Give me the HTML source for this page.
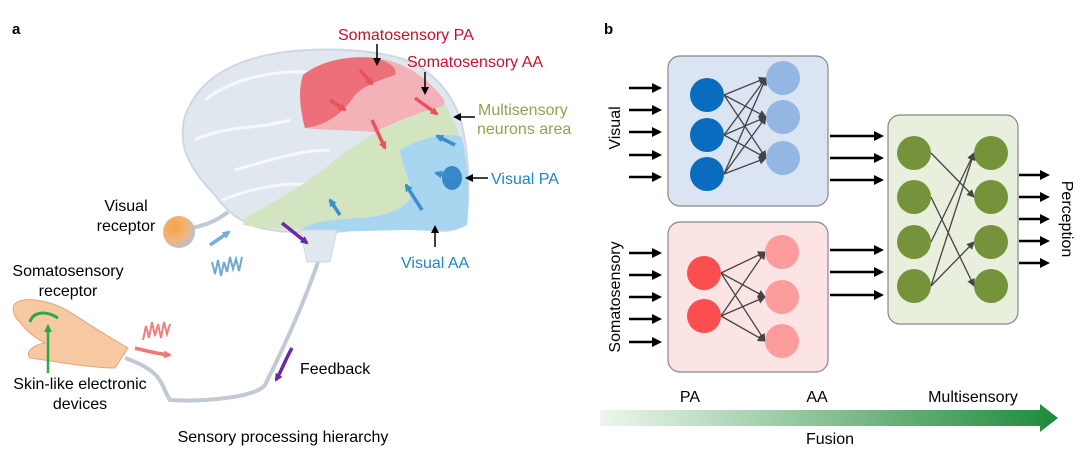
<!DOCTYPE html>
<html><head><meta charset="utf-8"><style>
body{margin:0;background:#fff;}
svg{display:block;font-family:"Liberation Sans",Arial,sans-serif;}
</style></head><body>
<svg width="1080" height="450" viewBox="0 0 1080 450" xmlns="http://www.w3.org/2000/svg">
<defs>
<marker id="ah" markerWidth="8" markerHeight="8" refX="6" refY="4" orient="auto" markerUnits="userSpaceOnUse"><path d="M0,0 L8,4 L0,8 z" fill="context-stroke"/></marker>
<marker id="ak" markerWidth="8" markerHeight="8" refX="6" refY="4" orient="auto" markerUnits="userSpaceOnUse"><path d="M0,0 L8,4 L0,8 z" fill="#000"/></marker>
<marker id="ah2" markerWidth="8" markerHeight="8" refX="7" refY="4" orient="auto" markerUnits="userSpaceOnUse"><path d="M0,0 L8,4 L0,8 z" fill="#444"/></marker>
<marker id="ab" markerWidth="10" markerHeight="10" refX="6" refY="5" orient="auto" markerUnits="userSpaceOnUse"><path d="M0,0 L10,5 L0,10 z" fill="#000"/></marker>
<linearGradient id="fg" x1="0" x2="1"><stop offset="0" stop-color="#eef6ee"/><stop offset="1" stop-color="#1e8a3a"/></linearGradient>
<radialGradient id="eye" cx="0.35" cy="0.35" r="0.75"><stop offset="0" stop-color="#f6a04a"/><stop offset="0.55" stop-color="#f2b57a"/><stop offset="1" stop-color="#a8c4e8"/></radialGradient>
</defs>
<text x="12" y="34" font-size="15" font-weight="bold">a</text>
<text x="604" y="34" font-size="15" font-weight="bold">b</text>

<!-- brain -->
<path d="M190,105 C205,75 240,58 285,52 C330,47 370,50 400,58 C430,68 450,90 460,118 C468,145 470,185 467,215 C463,232 448,232 430,230 C400,228 360,228 337,232 L300,232 C280,232 260,230 245,222 C230,214 222,205 215,195 C200,180 185,160 183,140 C182,125 184,115 190,105 Z" fill="#e1e7ef" stroke="#cfd8e2" stroke-width="2"/>
<path d="M205,100 C230,80 270,70 310,72 M195,140 C225,125 255,130 290,120 M235,170 C270,160 300,150 330,150 M222,200 C260,185 300,178 340,190 M260,215 C300,205 330,200 360,205" stroke="#f6f8fb" stroke-width="3" fill="none"/>
<!-- green region -->
<path d="M243,220 C265,205 300,190 335,160 C370,132 410,115 445,105 C458,125 465,150 466,175 L440,200 C410,215 370,225 330,228 C300,230 270,230 243,225 Z" fill="#d2e5bd" opacity="0.95"/>
<!-- pink region -->
<path d="M303,75 C320,62 345,55 375,58 C400,60 425,75 443,98 C445,102 445,105 443,106 C420,112 400,120 375,132 C350,130 320,130 305,128 C300,110 298,90 303,75 Z" fill="#f2b2b8"/>
<path d="M303,75 C320,62 345,55 375,58 C390,62 398,68 395,75 C380,80 365,85 355,95 C345,110 330,125 305,128 C300,110 298,90 303,75 Z" fill="#ec6f7a"/>
<!-- blue region -->
<path d="M400,150 C420,138 445,132 462,137 C468,165 470,200 467,225 C455,233 435,230 415,230 C385,230 350,232 300,232 C305,222 330,220 360,218 C385,216 405,210 412,195 C410,180 402,165 400,150 Z" fill="#a8d6f1"/>
<ellipse cx="452" cy="178" rx="10" ry="12" fill="#3a87c8"/>
<!-- brainstem & nerve -->
<path d="M300,230 L337,230 L330,262 L307,262 Z" fill="#e1e7ef" stroke="#cfd8e2"/>
<path d="M318,262 C305,300 285,345 265,385 C255,398 200,402 170,400 C160,385 165,372 125,358" stroke="#c0c9d4" stroke-width="4" fill="none"/>
<path d="M228,212 C215,222 205,225 192,228" stroke="#c0c9d4" stroke-width="4" fill="none"/>
<circle cx="179" cy="232" r="16" fill="url(#eye)"/>
<!-- arrows in brain -->
<g stroke-width="3.5" fill="none">
<line x1="360" y1="70" x2="372" y2="84" stroke="#e8525e" marker-end="url(#ah)"/>
<line x1="330" y1="100" x2="345" y2="110" stroke="#e8525e" marker-end="url(#ah)"/>
<line x1="372" y1="120" x2="385" y2="148" stroke="#e8525e" marker-end="url(#ah)"/>
<line x1="415" y1="98" x2="437" y2="114" stroke="#e8525e" marker-end="url(#ah)"/>
<line x1="455" y1="145" x2="437" y2="136" stroke="#3a8ed0" marker-end="url(#ah)"/>
<line x1="455" y1="178" x2="436" y2="173" stroke="#3a8ed0" marker-end="url(#ah)"/>
<line x1="422" y1="210" x2="406" y2="185" stroke="#3a8ed0" marker-end="url(#ah)"/>
<line x1="340" y1="215" x2="330" y2="200" stroke="#3a8ed0" marker-end="url(#ah)"/>
<line x1="282" y1="223" x2="307" y2="243" stroke="#6a2aa0" marker-end="url(#ah)"/>
<line x1="210" y1="245" x2="229" y2="232" stroke="#6fb0dd" marker-end="url(#ah)"/>
<path d="M292,348 C285,360 282,370 276,380" stroke="#6a2aa0" marker-end="url(#ah)"/>
<path d="M135,348 C150,352 160,354 170,355" stroke="#f0787a" marker-end="url(#ah)"/>
</g>
<path d="M212,262 l3,12 3,-14 3,16 3,-14 3,10 3,-15 3,12 3,-10 3,12 3,-14" stroke="#6fa8d6" stroke-width="2" fill="none"/>
<path d="M143,340 l3,-14 3,12 3,-16 3,14 3,-12 3,14 3,-16 3,12 3,-10" stroke="#f08080" stroke-width="2" fill="none"/>
<!-- hand -->
<path d="M14,305 C20,295 50,300 70,312 C90,325 105,335 128,348 L115,368 C90,368 60,362 30,358 C25,352 33,345 45,343 C35,338 25,330 20,322 C14,318 12,310 14,305 Z" fill="#f7c9a2" stroke="#e3a47a"/>
<path d="M30,322 C33,312 45,310 58,318" stroke="#2aa84a" stroke-width="3" fill="none"/>
<line x1="48" y1="373" x2="48" y2="326" stroke="#2aa84a" stroke-width="2.5" marker-end="url(#ah)"/>
<!-- label pointers -->
<g stroke="#000" stroke-width="1.5" marker-end="url(#ak)">
<line x1="377" y1="44" x2="377" y2="64"/><line x1="425" y1="72" x2="425" y2="93"/>
<line x1="475" y1="117" x2="455" y2="117"/><line x1="488" y1="178" x2="467" y2="178"/>
<line x1="435" y1="247" x2="435" y2="227"/>
</g>
<g font-size="16">
<text x="338" y="40" fill="#c8102e">Somatosensory PA</text>
<text x="407" y="67" fill="#c8102e">Somatosensory AA</text>
<text x="478" y="115" fill="#8aa84a">Multisensory</text>
<text x="477" y="134" fill="#8aa84a">neurons area</text>
<text x="491" y="184" fill="#1f86c8">Visual PA</text>
<text x="401" y="268" fill="#1f86c8">Visual AA</text>
<text x="126" y="211" text-anchor="middle">Visual</text>
<text x="126" y="231" text-anchor="middle">receptor</text>
<text x="68" y="276" text-anchor="middle">Somatosensory</text>
<text x="68" y="296" text-anchor="middle">receptor</text>
<text x="80" y="389" text-anchor="middle">Skin-like electronic</text>
<text x="80" y="409" text-anchor="middle">devices</text>
<text x="300" y="374">Feedback</text>
<text x="283" y="442" text-anchor="middle">Sensory processing hierarchy</text>
</g>

<!-- panel b -->
<rect x="668" y="56" width="160" height="150" rx="12" fill="#dae4f2" stroke="#888" stroke-width="1.2"/>
<rect x="668" y="222" width="160" height="150" rx="12" fill="#fde4e4" stroke="#888" stroke-width="1.2"/>
<rect x="888" y="115" width="130" height="209" rx="12" fill="#e8efdc" stroke="#888" stroke-width="1.2"/>
<g stroke="#444" stroke-width="1.3" marker-end="url(#ah2)">
<line x1="724" y1="95" x2="766" y2="78"/><line x1="724" y1="95" x2="766" y2="117"/><line x1="724" y1="95" x2="766" y2="158"/>
<line x1="724" y1="135" x2="766" y2="78"/><line x1="724" y1="135" x2="766" y2="117"/><line x1="724" y1="135" x2="766" y2="158"/>
<line x1="724" y1="174" x2="766" y2="78"/><line x1="724" y1="174" x2="766" y2="117"/><line x1="724" y1="174" x2="766" y2="158"/>
<line x1="721" y1="273" x2="765" y2="252"/><line x1="721" y1="273" x2="765" y2="297"/><line x1="721" y1="273" x2="765" y2="341"/>
<line x1="721" y1="316" x2="765" y2="252"/><line x1="721" y1="316" x2="765" y2="297"/><line x1="721" y1="316" x2="765" y2="341"/>
<line x1="931" y1="153" x2="974" y2="197"/><line x1="931" y1="197" x2="974" y2="286"/>
<line x1="931" y1="242" x2="974" y2="153"/><line x1="931" y1="286" x2="974" y2="153"/><line x1="931" y1="286" x2="974" y2="242"/>
</g>
<g fill="#0a6cbf"><circle cx="707" cy="95" r="17"/><circle cx="707" cy="135" r="17"/><circle cx="707" cy="174" r="17"/></g>
<g fill="#93b6e2"><circle cx="783" cy="78" r="17"/><circle cx="783" cy="117" r="17"/><circle cx="783" cy="158" r="17"/></g>
<g fill="#fc4e4e"><circle cx="704" cy="273" r="17"/><circle cx="704" cy="316" r="17"/></g>
<g fill="#fc9c9c"><circle cx="782" cy="252" r="17"/><circle cx="782" cy="297" r="17"/><circle cx="782" cy="341" r="17"/></g>
<g fill="#76923a"><circle cx="914" cy="153" r="17"/><circle cx="914" cy="197" r="17"/><circle cx="914" cy="242" r="17"/><circle cx="914" cy="286" r="17"/>
<circle cx="991" cy="153" r="17"/><circle cx="991" cy="197" r="17"/><circle cx="991" cy="242" r="17"/><circle cx="991" cy="286" r="17"/></g>
<g stroke="#000" stroke-width="2.5" marker-end="url(#ab)">
<line x1="629" y1="88" x2="658" y2="88"/><line x1="629" y1="110" x2="658" y2="110"/><line x1="629" y1="132" x2="658" y2="132"/><line x1="629" y1="155" x2="658" y2="155"/><line x1="629" y1="177" x2="658" y2="177"/>
<line x1="629" y1="253" x2="658" y2="253"/><line x1="629" y1="275" x2="658" y2="275"/><line x1="629" y1="297" x2="658" y2="297"/><line x1="629" y1="319" x2="658" y2="319"/><line x1="629" y1="342" x2="658" y2="342"/>
<line x1="830" y1="136" x2="880" y2="136"/><line x1="830" y1="158" x2="880" y2="158"/><line x1="830" y1="180" x2="880" y2="180"/>
<line x1="830" y1="250" x2="880" y2="250"/><line x1="830" y1="272" x2="880" y2="272"/><line x1="830" y1="295" x2="880" y2="295"/>
<line x1="1019" y1="175" x2="1046" y2="175"/><line x1="1019" y1="197" x2="1046" y2="197"/><line x1="1019" y1="219" x2="1046" y2="219"/><line x1="1019" y1="241" x2="1046" y2="241"/><line x1="1019" y1="263" x2="1046" y2="263"/>
</g>
<g font-size="16">
<text transform="translate(620,128) rotate(-90)" text-anchor="middle">Visual</text>
<text transform="translate(620,297) rotate(-90)" text-anchor="middle">Somatosensory</text>
<text transform="translate(1062,219) rotate(90)" text-anchor="middle">Perception</text>
<text x="690" y="402" text-anchor="middle">PA</text>
<text x="817" y="402" text-anchor="middle">AA</text>
<text x="973" y="402" text-anchor="middle">Multisensory</text>
<text x="830" y="444" text-anchor="middle">Fusion</text>
</g>
<path d="M600,410 L1040,410 L1040,404 L1058,418 L1040,432 L1040,426 L600,426 Z" fill="url(#fg)"/>
</svg>
</body></html>
